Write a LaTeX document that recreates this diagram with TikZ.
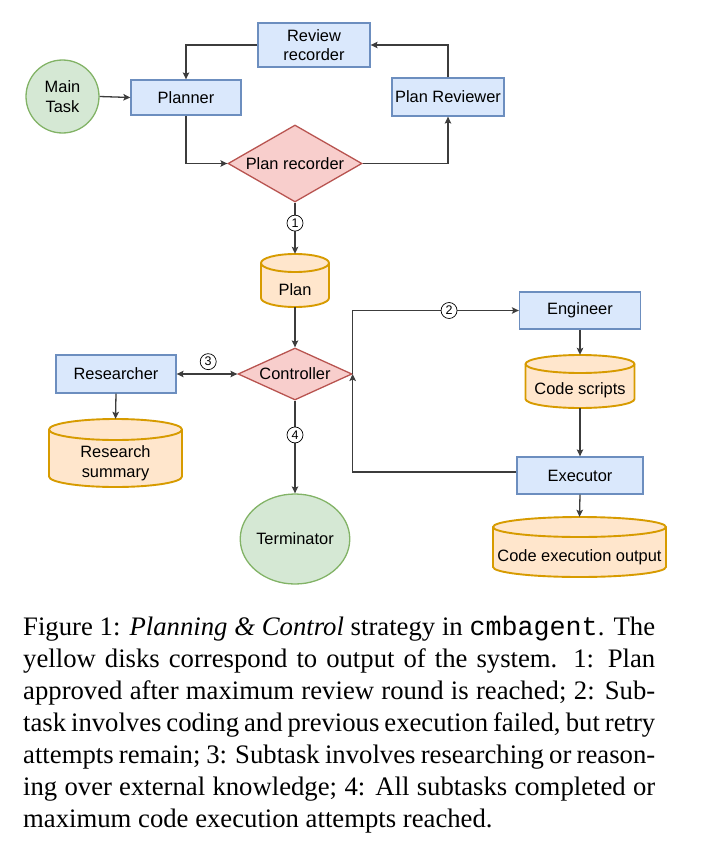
\documentclass[tikz,border=0pt]{standalone}
\usepackage{fontspec}
\setmainfont{Liberation Serif}
\setmonofont{Liberation Mono}
\newfontfamily\dfont{Liberation Sans}
\usetikzlibrary{arrows.meta,shapes.geometric}
\definecolor{bfill}{HTML}{DAE8FC}\definecolor{bdraw}{HTML}{6C8EBF}
\definecolor{rfill}{HTML}{F8CECC}\definecolor{rdraw}{HTML}{B85450}
\definecolor{gfill}{HTML}{D5E8D4}\definecolor{gdraw}{HTML}{82B366}
\definecolor{ofill}{HTML}{FFE6CC}\definecolor{odraw}{HTML}{D79B00}
\definecolor{edgec}{HTML}{3C3C3C}
\tikzset{
  dtext/.style={font=\dfont\fontsize{16.4}{19.5}\selectfont, align=center, text=black},
  bluebox/.style={dtext, rectangle, draw=bdraw, fill=bfill, line width=1.3pt, inner sep=0pt},
  decision/.style={dtext, diamond, draw=rdraw, fill=rfill, line width=1.3pt, inner sep=0pt},
  startend/.style={dtext, ellipse, draw=gdraw, fill=gfill, line width=1.3pt, inner sep=0pt},
  cylbody/.style={draw=odraw, fill=ofill, line width=1.9pt},
  arr/.style={draw=edgec, line width=1.3pt, -{Stealth[length=7pt,width=6.5pt,inset=1.5pt]}},
  darr/.style={draw=edgec, line width=1.3pt, {Stealth[length=7pt,width=6.5pt,inset=1.5pt]}-{Stealth[length=7pt,width=6.5pt,inset=1.5pt]}},
  numc/.style={circle, draw=black, line width=0.7pt, fill=white, inner sep=0pt, minimum size=16pt, font=\dfont\fontsize{12.5}{12.5}\selectfont},
}
% #1 name, #2 cx, #3 top, #4 bottom, #5 rx, #6 ry, #7 text
\newcommand\cylnode[7]{%
  \path[cylbody] (#2-#5,-#3-#6) -- (#2-#5,-#4+#6)
     arc[start angle=180,end angle=360,x radius=#5,y radius=#6]
     -- (#2+#5,-#3-#6)
     arc[start angle=0,end angle=180,x radius=#5,y radius=#6] -- cycle;
  \draw[draw=odraw, line width=1.9pt] (#2-#5,-#3-#6)
     arc[start angle=180,end angle=360,x radius=#5,y radius=#6];
  \node[inner sep=0pt, minimum width=2*#5pt, minimum height=#4pt-#3pt] (#1) at (#2,{-(#3+#4)/2}) {};
  \node[dtext] (#1-t) at (#2,{-(#3+2*#6+#4)/2}) {#7};
}
\begin{document}
\begin{tikzpicture}[x=1pt,y=1pt]
\useasboundingbox (0,0) rectangle (707,-859);

% nodes
\node[startend, minimum width=73pt, minimum height=73pt] (mt) at (62.5,-96.5) {Main\\Task};
\node[bluebox, minimum width=110pt, minimum height=35pt] (pl) at (186,-97.5) {Planner};
\node[bluebox, minimum width=112pt, minimum height=44pt] (rr) at (314,-45) {Review\\recorder};
\node[bluebox, minimum width=112pt, minimum height=38pt] (prv) at (448,-97) {Plan Reviewer};
\node[decision, aspect=1.74, minimum width=134pt, minimum height=77pt] (pr) at (295,-163.5) {Plan recorder};
\cylnode{plan}{295}{254}{307}{34}{9}{Plan}
\node[decision, aspect=2.19, minimum width=114pt, minimum height=52pt] (ctrl) at (295,-374) {Controller};
\node[bluebox, minimum width=120pt, minimum height=38pt] (res) at (116,-374) {Researcher};
\cylnode{rs}{115.5}{419}{487}{66.5}{10.5}{Research\\summary}
\node[startend, minimum width=90pt, minimum height=90pt] (term) at (295,-539) {Terminator};
\node[bluebox, minimum width=121pt, minimum height=37pt] (eng) at (580,-310.5) {Engineer};
\cylnode{cs}{580}{355}{408}{54.5}{9}{Code scripts}
\node[bluebox, minimum width=126pt, minimum height=37pt] (ex) at (580,-475.5) {Executor};
\cylnode{ceo}{579.5}{517}{577}{86.5}{10}{Code execution output}

% connectors
\draw[arr] (mt.east) -- (pl.west);
\draw[arr] (pl.south) |- (pr.west);
\draw[arr] (pr.east) -| (prv.south);
\draw[arr] (prv.north) |- (rr.east);
\draw[arr] (rr.west) -| (pl.north);
\draw[arr] (pr.south) -- node[numc, pos=0.4] (n1) {1} (plan.north);
\draw[arr] (plan.south) -- (ctrl.north);
\draw[darr] (res.east) -- node[numc, pos=0.52, above=4pt] (n3) {3} (ctrl.west);
\draw[arr] (ctrl.east) |- node[numc, pos=0.79] (n2) {2} (eng.west);
\draw[arr] (eng.south) -- (cs.north);
\draw[arr] (cs.south) -- (ex.north);
\draw[arr] ([yshift=3.5pt]ex.west) -| (ctrl.east);
\draw[arr] (ex.south) -- (ceo.north);
\draw[arr] (res.south) -- (rs.north);
\draw[arr] (ctrl.south) -- node[numc, pos=0.37] (n4) {4} (term.north);

% caption
\node[inner sep=0pt, anchor=base west] (cap) at (23,-635) {\begin{minipage}[t]{632pt}%
\fontsize{26.7}{32}\selectfont\setlength\parindent{0pt}\hbadness=10000\tolerance=10000
Figure 1: \textit{Planning \& Control} strategy in \texttt{cmbagent}. The\linebreak
yellow disks correspond to output of the system. 1: Plan\linebreak
approved after maximum review round is reached; 2: Sub-\linebreak
task involves coding and previous execution failed, but retry\linebreak
attempts remain; 3: Subtask involves researching or reason-\linebreak
ing over external knowledge; 4: All subtasks completed or\linebreak
maximum code execution attempts reached.
\end{minipage}};
\end{tikzpicture}
\end{document}
